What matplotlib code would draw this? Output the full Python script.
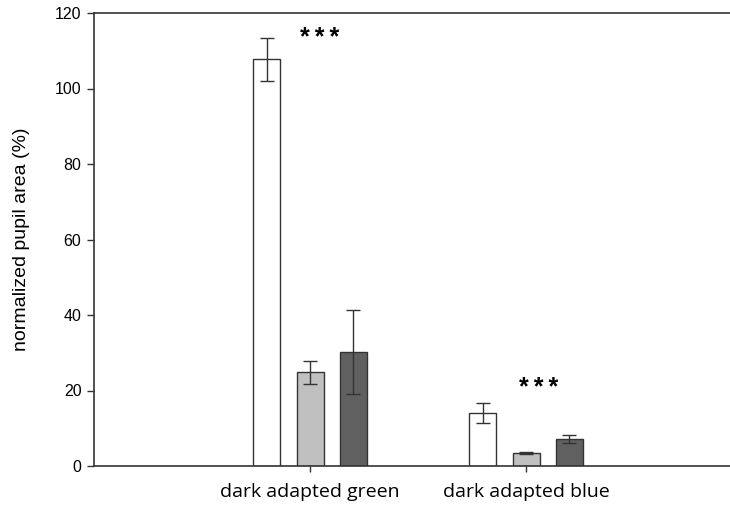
import numpy as np
import matplotlib
matplotlib.use("Agg")
import matplotlib.pyplot as plt

groups = ["dark adapted green", "dark adapted blue"]
series_colors = ["#ffffff", "#c0c0c0", "#606060"]
means = [
    [107.7, 14.0],   # white
    [24.8, 3.4],     # light gray
    [30.2, 7.1],     # dark gray
]
errors = [
    [5.6, 2.7],
    [3.1, 0.3],
    [11.0, 1.1],
]
stars = ["*\u2009*\u2009*", "*\u2009*\u2009*"]
star_y = [116.5, 23.9]
star_dx = [0.046, 0.059]

fig = plt.figure(figsize=(7.3, 5.05), dpi=100)
ax = fig.add_axes([94 / 730, 39 / 505, 648 / 730, 453 / 505])

x = np.arange(len(groups))
width = 0.125
offsets = [-0.2, 0.0, 0.2]

for vals, errs, col, off in zip(means, errors, series_colors, offsets):
    ax.bar(x + off, vals, width, color=col, edgecolor="#333333", linewidth=1.0, zorder=2)
    ax.errorbar(x + off, vals, yerr=errs, fmt="none", ecolor="#333333",
                elinewidth=1.0, capsize=4.7, capthick=1.0, zorder=3)

# significance markers above each group
for xi, s, sy, dx in zip(x, stars, star_y, star_dx):
    ax.text(xi + dx, sy, s, ha="center", va="top", fontsize=18,
            fontweight="bold", family=["Liberation Sans", "DejaVu Sans"])

ax.set_xlim(-1, 2)
ax.set_ylim(0, 120)
ax.set_yticks(np.arange(0, 121, 20))
ax.set_xticks(x)
ax.set_xticklabels(groups, family="Open Sans", fontsize=14)
for lbl in ax.get_yticklabels():
    lbl.set_family("Liberation Sans")
    lbl.set_fontsize(11.5)
ax.tick_params(axis="y", direction="out", length=5, width=1, pad=4, color="#333333")
ax.tick_params(axis="x", direction="out", length=4, width=1, pad=8, color="#333333")
ax.set_ylabel("normalized pupil area (%)", family="Liberation Sans", fontsize=14, labelpad=18)

for side in ["left", "bottom", "top"]:
    ax.spines[side].set_linewidth(1.2)
    ax.spines[side].set_color("#333333")
ax.spines["right"].set_visible(False)

fig.savefig("out.png", dpi=100)
